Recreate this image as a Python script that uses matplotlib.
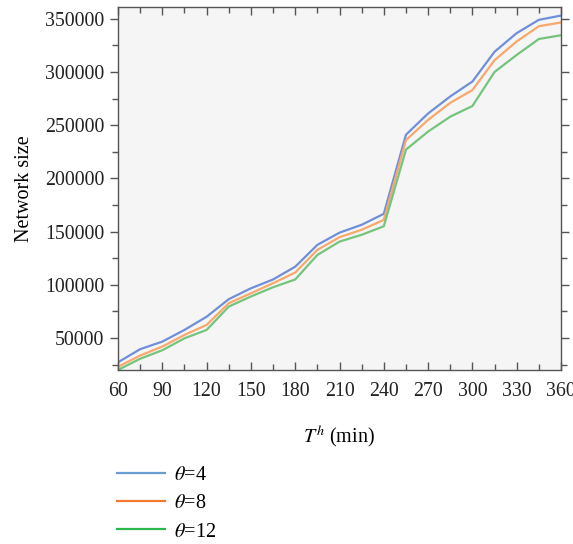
import matplotlib
matplotlib.use("Agg")
import matplotlib.pyplot as plt
from matplotlib.lines import Line2D
from matplotlib.ticker import MultipleLocator

plt.rcParams["font.family"] = ["Liberation Serif", "DejaVu Serif"]
plt.rcParams["mathtext.fontset"] = "stix"

# Observation horizon (minutes)
t_h = [60, 75, 90, 105, 120, 135, 150, 165, 180, 195, 210,
       225, 240, 255, 270, 285, 300, 315, 330, 345, 360]

# Network size for each theta setting
size_theta4 = [27200, 39500, 46600, 57600, 70000, 86500, 96700, 105000, 117000,
               137500, 149000, 156400, 166700, 241000, 261000, 277000, 291000,
               319000, 336500, 349000, 353000]
size_theta8 = [23000, 33500, 42000, 52900, 62300, 82700, 92000, 101500, 111500,
               132800, 144700, 151700, 161000, 236000, 255000, 271000, 283000,
               311000, 328700, 343000, 346500]
size_theta12 = [20000, 30500, 38500, 49700, 57600, 79500, 89000, 97700, 105000,
                128000, 140600, 147000, 155000, 227000, 244000, 258000, 268000,
                300000, 316000, 331000, 334500]

labels = [r"$\theta$=4", r"$\theta$=8", r"$\theta$=12"]
line_colors = ["#6f8fd8", "#f8a86c", "#74c47c"]
legend_colors = ["#6a9bd1", "#f07a30", "#2db84d"]
x_ticks = [60, 90, 120, 150, 180, 210, 240, 270, 300, 330, 360]

fig = plt.figure(figsize=(5.73, 5.44), dpi=100)
ax = fig.add_axes([0.206, 0.320, 0.773, 0.667])
ax.set_facecolor("#f5f5f5")

for ys, c in zip([size_theta4, size_theta8, size_theta12], line_colors):
    ax.plot(t_h, ys, color=c, lw=1.6, solid_joinstyle="round")

ax.set_xlim(60, 360)
ax.set_ylim(20000, 361000)
ax.set_xticks(x_ticks)
ax.xaxis.set_minor_locator(MultipleLocator(15))
ax.yaxis.set_major_locator(MultipleLocator(50000))
ax.yaxis.set_minor_locator(MultipleLocator(25000))
ax.set_yticks([50000, 100000, 150000, 200000, 250000, 300000, 350000])

for s in ax.spines.values():
    s.set_color("#555555")
    s.set_linewidth(1.0)

ax.tick_params(axis="both", which="both", colors="#555555", labelcolor="#222222",
               labelsize=14.3, top=True, right=True)
ax.tick_params(axis="y", which="major", direction="out", length=6, width=1.0, pad=4)
ax.tick_params(axis="y", which="minor", direction="out", length=4, width=1.0)
ax.tick_params(axis="x", which="major", direction="in", length=6, width=1.0, pad=9)
ax.tick_params(axis="x", which="minor", direction="in", length=4, width=1.0)

ax.set_ylabel("Network size", fontsize=14.5, labelpad=8)
ax.set_xlabel(r"$T^h$ (min)", fontsize=14.5, labelpad=16)

handles = [Line2D([], [], color=c, lw=1.6) for c in legend_colors]
fig.legend(handles, labels, loc="upper left", bbox_to_anchor=(0.19, 0.158),
           borderaxespad=0.0, frameon=False, fontsize=14.5, handlelength=2.4,
           labelspacing=0.45, handletextpad=0.45)

fig.savefig("out.png", dpi=100, facecolor="white")
